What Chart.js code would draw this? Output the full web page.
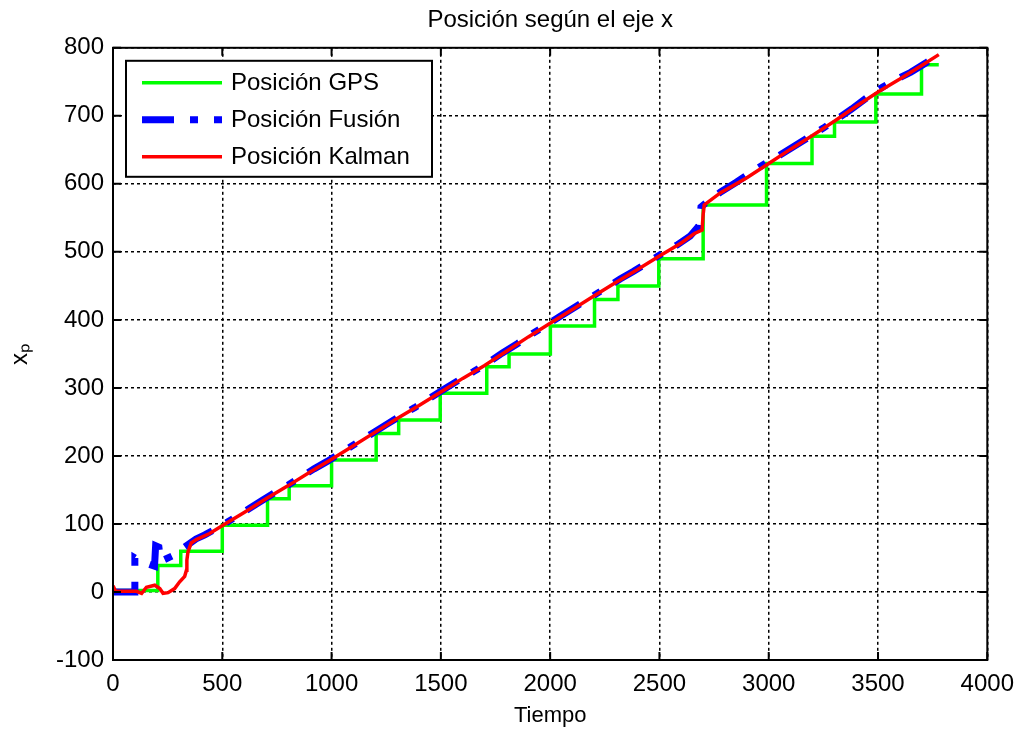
<!DOCTYPE html>
<html>
<head>
<meta charset="utf-8">
<script src="https://cdn.jsdelivr.net/npm/chart.js@4.4.0/dist/chart.umd.min.js"></script>
<style>
  html, body { margin: 0; padding: 0; background: #fff; }
  canvas { display: block; }
</style>
</head>
<body>
<canvas id="c" width="1024" height="731"></canvas>
<script>
// ---- data ----
const gpsTime = [0, 205, 310, 500, 707, 806, 1000, 1204, 1307, 1497, 1710, 1812, 2001, 2203, 2310, 2497, 2700, 2990, 3198, 3301, 3490, 3699, 3778];
const gpsPos  = [2, 39, 60, 98, 137, 156, 194, 233, 253, 292, 331, 350, 391, 430, 450, 490, 569, 630, 670, 691, 732, 775, 775];

const fusTime = [0, 100, 100, 120, 190, 195, 210, 218, 285, 310, 345, 380, 420, 460, 520, 560, 620, 680, 740, 800, 860, 920, 980, 1050, 1120, 1180, 1250, 1320, 1380, 1450, 1520, 1580, 1650, 1720, 1780, 1850, 1920, 1980, 2050, 2120, 2180, 2250, 2320, 2380, 2450, 2520, 2580, 2640, 2680, 2690, 2720, 2780, 2850, 2920, 2980, 3050, 3120, 3180, 3250, 3320, 3380, 3450, 3520, 3580, 3650, 3720, 3782];
const fusPos  = [0, 0, 50, 46, 38, 68, 66, 45, 55, 62, 70, 78, 84, 91, 102, 110, 122, 134, 146, 157, 169, 181, 192, 206, 220, 232, 246, 260, 271, 285, 299, 311, 324, 338, 351, 365, 380, 392, 406, 420, 432, 446, 460, 471, 485, 499, 510, 523, 538, 566, 574, 588, 602, 617, 629, 642, 656, 668, 682, 697, 710, 727, 742, 753, 764, 778, 792];

const kalTime = [0, 12, 32, 108, 131, 153, 191, 214, 229, 252, 282, 305, 328, 336, 338, 343, 358, 381, 442, 503, 600, 700, 800, 900, 1000, 1100, 1200, 1300, 1400, 1500, 1600, 1700, 1800, 1900, 2000, 2100, 2200, 2300, 2400, 2500, 2600, 2660, 2695, 2700, 2705, 2780, 2900, 3000, 3100, 3200, 3300, 3400, 3500, 3600, 3700, 3778];
const kalPos  = [9, 1, 1, 1, -2, 7, 10, 5, -2, -1, 5, 15, 23, 32, 47, 59, 72, 77, 86, 98, 117, 137, 156, 176, 195, 215, 235, 255, 274, 294, 314, 333, 354, 375, 395, 415, 435, 455, 474, 494, 513, 527, 532, 555, 569, 587, 609, 630, 651, 671, 692, 714, 735, 754, 774, 790];

const xTicks = [0, 500, 1000, 1500, 2000, 2500, 3000, 3500, 4000];
const yTicks = [-100, 0, 100, 200, 300, 400, 500, 600, 700, 800];

const seriesNames = ['Posición GPS', 'Posición Fusión', 'Posición Kalman'];
const titleText = 'Posición según el eje x';
const xLabel = 'Tiempo';
const yLabel = 'xₚ';

// ---- build ----
const pts = (t, v) => t.map((x, i) => ({ x: x, y: v[i] }));
const FONT = "'Liberation Sans', Arial, Helvetica, sans-serif";
const FS = 24;   // ticks, legend, title
const FT = 22;   // x axis label

const styles = [
  { color: '#00ff00', width: 3.5, dash: [] },
  { color: '#0000ff', width: 7, dash: [32, 16, 8, 16] },
  { color: '#ff0000', width: 3.5, dash: [] }
];

const frameTicks = {
  id: 'frameTicks',
  afterDatasetsDraw(chart) {
    const { ctx, chartArea: a, scales } = chart;
    ctx.save();
    ctx.strokeStyle = '#000';
    ctx.lineWidth = 2;
    ctx.setLineDash([]);
    ctx.strokeRect(a.left, a.top, a.right - a.left, a.bottom - a.top);
    const L = 8;
    ctx.beginPath();
    xTicks.forEach(v => {
      const px = scales.x.getPixelForValue(v);
      ctx.moveTo(px, a.bottom); ctx.lineTo(px, a.bottom - L);
      ctx.moveTo(px, a.top); ctx.lineTo(px, a.top + L);
    });
    yTicks.forEach(v => {
      const py = scales.y.getPixelForValue(v);
      ctx.moveTo(a.left, py); ctx.lineTo(a.left + L, py);
      ctx.moveTo(a.right, py); ctx.lineTo(a.right - L, py);
    });
    ctx.stroke();
    ctx.restore();
  }
};

const legendBox = {
  id: 'legendBox',
  afterDraw(chart) {
    const { ctx, chartArea: a } = chart;
    const x0 = a.left + 13, y0 = a.top + 13, w = 306, h = 116;
    ctx.save();
    ctx.fillStyle = '#fff';
    ctx.fillRect(x0, y0, w, h);
    ctx.strokeStyle = '#000';
    ctx.lineWidth = 2;
    ctx.setLineDash([]);
    ctx.strokeRect(x0, y0, w, h);
    ctx.font = FS + 'px ' + FONT;
    ctx.textBaseline = 'middle';
    ctx.textAlign = 'left';
    seriesNames.forEach((name, i) => {
      const cy = y0 + 22 + i * 37;
      const st = styles[i];
      ctx.beginPath();
      ctx.strokeStyle = st.color;
      ctx.lineWidth = st.width;
      ctx.lineCap = 'butt';
      ctx.setLineDash(st.dash);
      ctx.moveTo(x0 + 16, cy);
      ctx.lineTo(x0 + 96, cy);
      ctx.stroke();
      ctx.setLineDash([]);
      ctx.fillStyle = '#000';
      ctx.fillText(name, x0 + 105, cy + 1);
    });
    ctx.restore();
  }
};

new Chart(document.getElementById('c'), {
  type: 'line',
  data: {
    datasets: [
      { label: seriesNames[0], data: pts(gpsTime, gpsPos), stepped: true,
        borderColor: styles[0].color, borderWidth: styles[0].width, order: 3 },
      { label: seriesNames[1], data: pts(fusTime, fusPos),
        borderColor: styles[1].color, borderWidth: styles[1].width, borderDash: styles[1].dash, order: 2 },
      { label: seriesNames[2], data: pts(kalTime, kalPos),
        borderColor: styles[2].color, borderWidth: styles[2].width, order: 1 }
    ]
  },
  options: {
    responsive: false,
    animation: false,
    devicePixelRatio: 1,
    layout: { padding: { left: 0, right: 33, top: 0, bottom: 0 } },
    elements: { point: { radius: 0 }, line: { tension: 0, borderCapStyle: 'butt', borderJoinStyle: 'miter' } },
    plugins: {
      legend: { display: false },
      tooltip: { enabled: false },
      title: { display: true, fullSize: false, text: titleText, color: '#000',
        font: { family: FONT, size: FS, weight: 'normal' }, padding: { top: 6, bottom: 13 } }
    },
    scales: {
      x: {
        type: 'linear', min: 0, max: 4000,
        afterBuildTicks: s => { s.ticks = xTicks.map(v => ({ value: v })); },
        afterFit: s => { s.height = 71; },
        ticks: { color: '#000', font: { family: FONT, size: FS }, padding: 10, maxRotation: 0,
                 callback: v => String(v) },
        grid: { color: '#000', lineWidth: 1.5, drawTicks: false },
        border: { display: false, dash: [3, 3] },
        title: { display: true, text: xLabel, color: '#000', font: { family: FONT, size: FT }, padding: { top: 0, bottom: 2 } }
      },
      y: {
        type: 'linear', min: -100, max: 800,
        afterBuildTicks: s => { s.ticks = yTicks.map(v => ({ value: v })); },
        afterFit: s => { s.width = 113; },
        ticks: { color: '#000', font: { family: FONT, size: FS }, padding: 9, callback: v => String(v) },
        grid: { color: '#000', lineWidth: 1.5, drawTicks: false },
        border: { display: false, dash: [3, 3] },
        title: { display: true, text: yLabel, color: '#000', font: { family: FONT, size: FS }, padding: { top: 6, bottom: 0 } }
      }
    }
  },
  plugins: [frameTicks, legendBox]
});
</script>
</body>
</html>
